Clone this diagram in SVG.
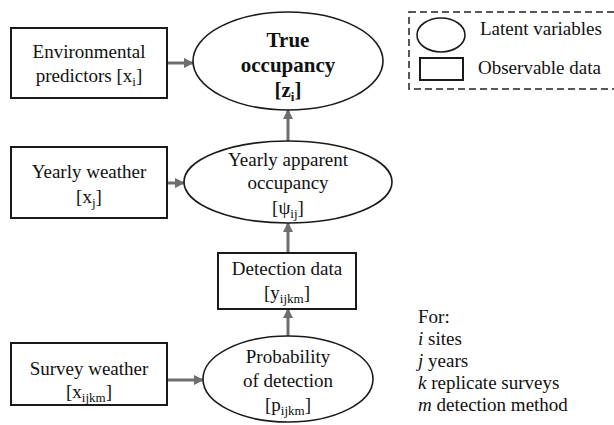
<svg xmlns="http://www.w3.org/2000/svg" width="614" height="425" viewBox="0 0 614 425" font-family="'Liberation Serif', 'Times New Roman', Times, serif">
<defs>
<style>
.box{fill:#fff;stroke:#1a1a1a;stroke-width:2}
.ell{fill:#fff;stroke:#1a1a1a;stroke-width:1.6}
.t{font-family:'Liberation Serif','DejaVu Serif','Times New Roman',Times,serif;font-size:19px;fill:#111;text-anchor:middle}
.b{font-weight:bold;font-size:21px}
.l{text-anchor:start}
.s{font-size:13px}
.con{stroke:#6e6e6e;stroke-width:3;fill:none;marker-end:url(#ah)}
</style>
<marker id="ah" viewBox="0 0 10 10" refX="9" refY="5" markerWidth="3.5" markerHeight="3.5" orient="auto" markerUnits="strokeWidth">
<path d="M0,0 L10,5 L0,10 z" fill="#6e6e6e"/>
</marker>
</defs>
<rect width="614" height="425" fill="#fff"/>

<g id="connectors">
<line class="con" x1="167" y1="63" x2="193" y2="63"/>
<line class="con" x1="167" y1="183" x2="184" y2="183"/>
<line class="con" x1="167" y1="380" x2="203" y2="380"/>
<line class="con" x1="288" y1="141" x2="288" y2="110"/>
<line class="con" x1="288" y1="253" x2="288" y2="223"/>
<line class="con" x1="288" y1="336" x2="288" y2="309"/>
</g>

<g id="env">
<rect class="box" x="11" y="28" width="156" height="70"/>
<text class="t" x="89" y="58">Environmental</text>
<text class="t" x="89" y="82">predictors [x<tspan class="s" dy="4">i</tspan><tspan dy="-4">]</tspan></text>
</g>

<g id="true">
<ellipse class="ell" cx="288" cy="61" rx="95" ry="49"/>
<text class="t b" x="288" y="47">True</text>
<text class="t b" x="288" y="72">occupancy</text>
<text class="t b" x="288" y="97">[z<tspan class="s" dy="4">i</tspan><tspan dy="-4">]</tspan></text>
</g>

<g id="legend">
<rect x="409" y="12" width="215" height="77" fill="none" stroke="#222" stroke-width="1.5" stroke-dasharray="7,4"/>
<ellipse class="ell" cx="441" cy="35" rx="24" ry="17"/>
<rect class="box" x="420" y="58" width="43" height="22"/>
<text class="t l" x="480" y="35">Latent variables</text>
<text class="t l" x="478" y="74">Observable data</text>
</g>

<g id="yweather">
<rect class="box" x="11" y="147" width="156" height="71"/>
<text class="t" x="89" y="178">Yearly weather</text>
<text class="t" x="89" y="203">[x<tspan class="s" dy="4">j</tspan><tspan dy="-4">]</tspan></text>
</g>

<g id="yapparent">
<ellipse class="ell" cx="288" cy="182" rx="104" ry="41"/>
<text class="t" x="288" y="166">Yearly apparent</text>
<text class="t" x="288" y="189">occupancy</text>
<text class="t" x="288" y="214">[ψ<tspan class="s" dy="4">ij</tspan><tspan dy="-4">]</tspan></text>
</g>

<g id="detection">
<rect class="box" x="218" y="253" width="138" height="56"/>
<text class="t" x="287" y="275">Detection data</text>
<text class="t" x="287" y="299">[y<tspan class="s" dy="4">ijkm</tspan><tspan dy="-4">]</tspan></text>
</g>

<g id="sweather">
<rect class="box" x="11" y="343" width="156" height="62"/>
<text class="t" x="89" y="375">Survey weather</text>
<text class="t" x="89" y="398">[x<tspan class="s" dy="4">ijkm</tspan><tspan dy="-4">]</tspan></text>
</g>

<g id="prob">
<ellipse class="ell" cx="288" cy="379" rx="85" ry="43"/>
<text class="t" x="288" y="363">Probability</text>
<text class="t" x="288" y="387">of detection</text>
<text class="t" x="288" y="411">[p<tspan class="s" dy="4">ijkm</tspan><tspan dy="-4">]</tspan></text>
</g>

<g id="note">
<text class="t l" x="418" y="323">For:</text>
<text class="t l" x="418" y="345"><tspan font-style="italic">i</tspan> sites</text>
<text class="t l" x="418" y="367"><tspan font-style="italic">j</tspan> years</text>
<text class="t l" x="418" y="389"><tspan font-style="italic">k</tspan> replicate surveys</text>
<text class="t l" x="418" y="411"><tspan font-style="italic">m</tspan> detection method</text>
</g>
</svg>
